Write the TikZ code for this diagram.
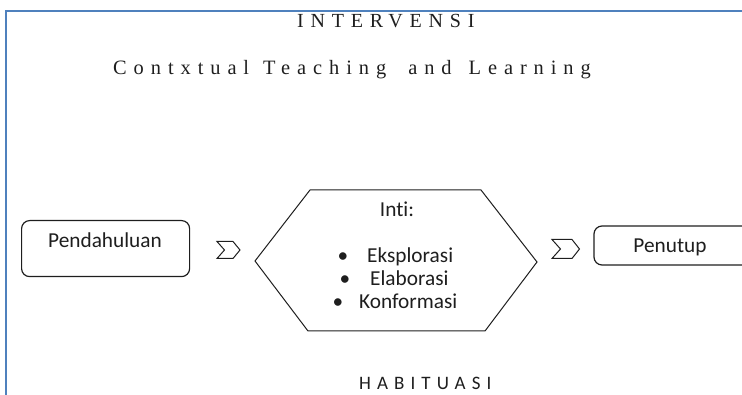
\documentclass[tikz,border=0pt]{standalone}
\usepackage{fontspec}
\setmainfont{Liberation Serif}
\newfontfamily\calfont[Ligatures=NoCommon]{Carlito}
\definecolor{frameblue}{HTML}{4F81BD}
\definecolor{lineblack}{HTML}{1E1E1E}
\begin{document}
\begin{tikzpicture}[x=1pt,y=-1pt,
  frame/.style={draw=frameblue, line width=1.6pt},
  rbox/.style={draw=lineblack, line width=1.2pt, rounded corners=8pt},
  outline/.style={draw=lineblack, line width=1pt, line join=miter},
  lbl/.style={inner sep=0pt, font=\calfont\fontsize{21.3}{24}\selectfont, text=lineblack},
  ttl/.style={inner sep=0pt, font=\fontsize{20}{24}\selectfont\addfontfeature{LetterSpace=34}, text=lineblack},
  sttl/.style={inner sep=0pt, font=\calfont\fontsize{19}{22}\selectfont\addfontfeature{LetterSpace=32}, text=lineblack},
]
\useasboundingbox (0,0) rectangle (742,395);
\begin{scope}
\clip (0,0) rectangle (742,395);
% frame
\coordinate (fa) at (6,400);
\coordinate (fb) at (6,11);
\coordinate (fc) at (750,11);
\draw[frame] (fa) -- (fb) -- (fc);
\end{scope}

% titles
\node[ttl, anchor=base west] (interv) at (297,28) {INTERVENSI};
\node[ttl, anchor=base west, font=\fontsize{20.4}{24}\selectfont\addfontfeature{LetterSpace=34}] (ctl) at (113,75) {Contxtual\hspace{2pt} Teaching\hspace{10pt} and\hspace{5pt} Learning};
\node[sttl, anchor=base west] (habit) at (359,390) {HABITUASI};

% Pendahuluan box
\node[rbox, anchor=north west, minimum width=168pt, minimum height=56pt] (pend) at (21,220) {};
\node[lbl, anchor=base] (pendt) at (105,248) {Pendahuluan};

% Penutup box (cut at right edge)
\begin{scope}
\clip (0,0) rectangle (742,395);
\coordinate (pa) at (760,226);
\coordinate (pb) at (594,265);
\draw[rbox] (pa) -| (pb) -- (pb -| pa);
\end{scope}
\node[lbl, anchor=base] (penutupt) at (670,253) {Penutup};

% hexagon
\coordinate (h1) at (255,261);
\coordinate (h2) at (310,190);
\coordinate (h3) at (481,190);
\coordinate (h4) at (537,262);
\coordinate (h5) at (485,331);
\coordinate (h6) at (308,331);
\draw[outline] (h1) -- (h2) -- (h3) -- (h4) -- (h5) -- (h6) -- cycle;
\node[lbl, anchor=base] (inti) at (397,217) {Inti:};
\node[lbl, anchor=base] (b1) at (343,263) {\textbullet};
\node[lbl, anchor=base west] (eks) at (367,263) {Eksplorasi};
\node[lbl, anchor=base] (b2) at (345,286) {\textbullet};
\node[lbl, anchor=base west] (ela) at (370,286) {Elaborasi};
\node[lbl, anchor=base] (b3) at (338,309) {\textbullet};
\node[lbl, anchor=base west] (kon) at (359,309) {Konformasi};

% chevrons
\coordinate (c1) at (217,241.5);
\draw[outline] (c1) -- ++(16,0) -- ++(7,8.5) -- ++(-7,8.5) -- ++(-16,0) -- ++(7.5,-8.5) -- cycle;
\coordinate (c2) at (552,239.5);
\draw[outline] (c2) -- ++(20,0) -- ++(7.5,9.5) -- ++(-7.5,9.5) -- ++(-20,0) -- ++(8.5,-9.5) -- cycle;
\end{tikzpicture}
\end{document}
